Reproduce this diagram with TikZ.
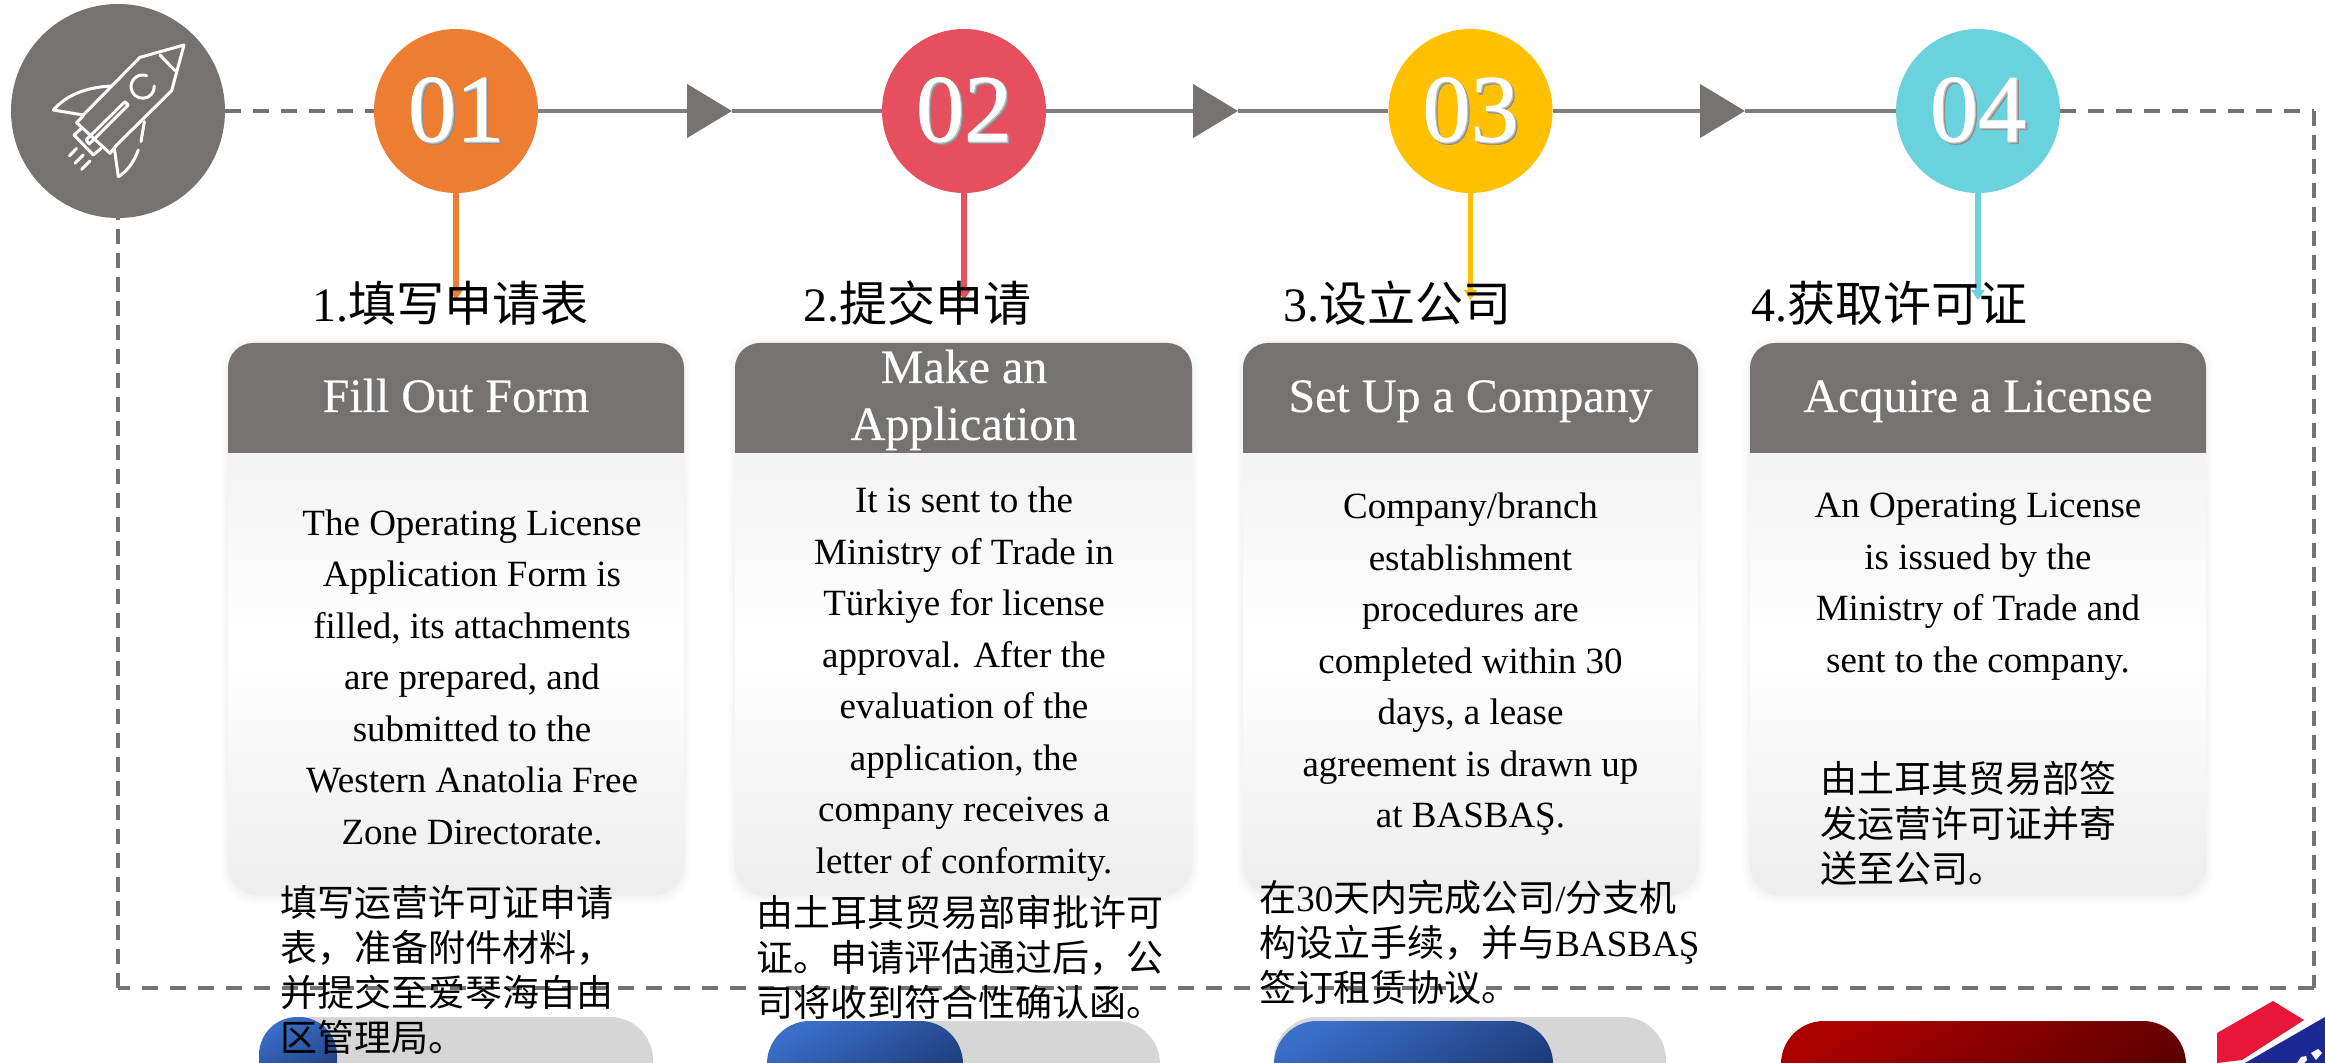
\documentclass[tikz,border=0pt]{standalone}
\usepackage{fontspec}
\usetikzlibrary{arrows.meta,calc}
\setmainfont{Liberation Serif}
\newfontfamily\cjk{Noto Sans CJK SC}
\newfontfamily\numfont[FakeBold=0.8]{Liberation Serif}
\newfontfamily\headfont[FakeBold=0.3]{Liberation Serif}
\definecolor{slate}{HTML}{767271}
\definecolor{lineC}{HTML}{807E7E}
\definecolor{orangeC}{HTML}{ED7D31}
\definecolor{redC}{HTML}{E54F5E}
\definecolor{yellowC}{HTML}{FFC000}
\definecolor{tealC}{HTML}{69D2DC}
\definecolor{trackC}{HTML}{D6D6D6}
\definecolor{blueA}{HTML}{3A6EC8}
\definecolor{blueB}{HTML}{1A3670}
\definecolor{redA}{HTML}{AC0000}
\definecolor{redB}{HTML}{580000}
\definecolor{logoRed}{HTML}{E8173A}
\definecolor{logoBlue}{HTML}{1C2896}
\newcommand{\shadowed}[1]{\rlap{\kern1.2pt\raisebox{-1.2pt}{\textcolor{black!45}{#1}}}\rlap{\kern0.6pt\raisebox{-0.6pt}{\textcolor{black!25}{#1}}}#1}
\tikzset{
  x=0.5pt,y=-0.5pt,
  numcircle/.style={circle,minimum size=82pt,inner sep=0pt,text=white,font=\fontsize{48}{48}\selectfont\numfont},
  flowline/.style={draw=lineC,line width=2.3pt},
  flowtip/.style={flowline,-{Triangle[width=26.5pt,length=22.5pt,color=slate]}},
  dashH/.style={draw=slate,line width=2.4pt,dash pattern=on 8pt off 6pt},
  dashV/.style={draw=slate,line width=2pt,dash pattern=on 7.5pt off 4.5pt},
  stemline/.style={line width=2.75pt,-{Triangle[width=6.5pt,length=5pt]}},
  titletxt/.style={anchor=base west,inner sep=0pt,font=\fontsize{24}{28}\selectfont},
  headtxt/.style={anchor=base,inner sep=0pt,text=white,align=center,font=\fontsize{24}{28.5}\selectfont\headfont},
  bodytxt/.style={anchor=north,inner sep=0pt,align=center,font=\fontsize{18.5}{25.75}\selectfont},
  cjktxt/.style={anchor=north west,inner sep=0pt,align=left,font=\fontsize{18.5}{22.5}\selectfont\cjk},
  rocketline/.style={draw=white,line width=1.5pt,line cap=round,line join=round},
  halo/.style={fill=black,opacity=0.012,rounded corners=16pt},
  pillshape/.style={rounded corners=21.5pt},
  bluefill/.style={pillshape,left color=blueA,right color=blueB,shading angle=30},
  redfill/.style={pillshape,left color=redA,right color=redB,shading angle=30}
}
\newcommand{\card}[2]{%
  \foreach \e in {7,5,3,1}{\fill[halo] ({#1-\e},{343-\e}) rectangle ({#2+\e},{896+\e+1});}
  \shade[rounded corners=16pt,top color=black!6,bottom color=black!7,middle color=white] (#1,400) rectangle (#2,896);
  \begin{scope}
    \clip ({#1-1},340) rectangle ({#2+1},453);
    \fill[slate,rounded corners=12.5pt] (#1,343) rectangle (#2,500);
  \end{scope}}
\begin{document}
\begin{tikzpicture}
\useasboundingbox (0,0) rectangle (2325,1063);
\fill[white] (0,0) rectangle (2325,1063);

% named points
\coordinate (t1) at (732,111);
\coordinate (t2) at (1238,111);
\coordinate (t3) at (1745,111);
\coordinate (tr) at (2314,111);
\coordinate (br) at (2314,988);
\coordinate (bl) at (118,988);
\coordinate (s1) at (456,300);
\coordinate (s2) at (964,300);
\coordinate (s3) at (1470.5,300);
\coordinate (s4) at (1978,300);

% named anchors of the circles
\node[circle,minimum size=107pt,inner sep=0pt] (r) at (118,111) {};
\node[numcircle] (c1) at (456,111) {};
\node[numcircle] (c2) at (964,111) {};
\node[numcircle] (c3) at (1470.5,111) {};
\node[numcircle] (c4) at (1978,111) {};

% cards
\card{228}{684}
\card{735}{1192}
\card{1243}{1698}
\card{1750}{2206}

% progress bars and logo, cut by the page edge
\begin{scope}
\clip (0,0) rectangle (2325,1063);
\fill[trackC,pillshape] (259,1017) rectangle (653,1103);
\fill[trackC,pillshape] (767,1021) rectangle (1160,1107);
\fill[trackC,pillshape] (1274,1017) rectangle (1666,1103);
\shade[bluefill,rounded corners=19pt] (259,1017) rectangle (337,1103);
\shade[bluefill] (767,1021) rectangle (963,1107);
\shade[bluefill] (1274,1021) rectangle (1553,1107);
\shade[redfill] (1781,1021) rectangle (2186,1107);
\fill[logoRed] (2217,1033) -- (2273,1001) -- (2304,1020) -- (2242,1060) -- (2217,1063) -- cycle;
\fill[logoBlue] (2325,1017) -- (2245,1063) -- (2325,1063) -- cycle;
\fill[white] (2297,1063) -- (2301,1057) -- (2306,1056) -- (2307,1060) -- (2304,1063) -- cycle;
\fill[white] (2311,1053) -- (2318,1049) -- (2322,1053) -- (2316,1060) -- cycle;
\end{scope}

% dashed frame
\draw[dashH] (r.east) -- (c1.west);
\draw[dashH] (c4.east) -- (tr);
\draw[dashV] (tr) -- (br);
\draw[dashH] (br) -- (bl);
\draw[dashV] (bl) -- (r.south);

% flow line
\draw[flowtip] (c1.east) -- (t1);
\draw[flowline] (t1) -- (c2.west);
\draw[flowtip] (c2.east) -- (t2);
\draw[flowline] (t2) -- (c3.west);
\draw[flowtip] (c3.east) -- (t3);
\draw[flowline] (t3) -- (c4.west);

% stems
\draw[stemline,draw=orangeC,fill=orangeC] (c1.south) -- (s1);
\draw[stemline,draw=redC,fill=redC] (c2.south) -- (s2);
\draw[stemline,draw=yellowC,fill=yellowC] (c3.south) -- (s3);
\draw[stemline,draw=tealC,fill=tealC] (c4.south) -- (s4);

% circles
\fill[slate] (r.center) circle (107);
\node[numcircle,fill=orangeC] (n1) at (c1) {\raisebox{-0.8pt}{\shadowed{01}}};
\node[numcircle,fill=redC] (n2) at (c2) {\raisebox{-0.8pt}{\shadowed{02}}};
\node[numcircle,fill=yellowC] (n3) at (c3) {\raisebox{-0.8pt}{\shadowed{03}}};
\node[numcircle,fill=tealC] (n4) at (c4) {\raisebox{-0.8pt}{\shadowed{04}}};

% rocket
\begin{scope}[x=0.16667pt,y=-0.16667pt,rocketline]
\draw (345,440) -- (515,272) -- (552,135) -- (420,172) -- (250,345);
\draw (480,165) -- (525,212);
\draw (335,258) .. controls (250,262) and (195,290) .. (160,330) -- (250,345);
\draw (433,365) -- (423,425);
\draw (415,450) .. controls (400,490) and (380,515) .. (355,530) -- (343,445);
\draw (250,348) -- (230,368) -- (330,460) -- (348,438);
\draw (245,385) -- (222,405) -- (280,465) -- (303,445);
\draw (375,305) -- (258,420) -- (268,432) -- (385,315) -- cycle;
\draw (463,258) arc[start angle=-3,end angle=290,radius=35];
\draw (208,468) -- (230,445);
\draw (225,490) -- (250,465);
\draw (245,508) -- (270,483);
\end{scope}

% titles
\node[titletxt] (ti1) at (312,322) {1.{\cjk 填写申请表}};
\node[titletxt] (ti2) at (803,322) {2.{\cjk 提交申请}};
\node[titletxt] (ti3) at (1283,322) {3.{\cjk 设立公司}};
\node[titletxt] (ti4) at (1751,322) {4.{\cjk 获取许可证}};

% card headers
\node[headtxt] (h1) at (456,412) {Fill Out Form};
\node[headtxt] (h2a) at (964,383) {Make an};
\node[headtxt] (h2b) at (964,440) {Application};
\node[headtxt] (h3) at (1470.5,412) {Set Up a Company};
\node[headtxt] (h4) at (1978,412) {Acquire a License};

% card text
\node[bodytxt] (b1) at (472,499) {\strut The Operating License\\Application Form is\\filled, its attachments\\are prepared, and\\submitted to the\\Western Anatolia Free\\Zone Directorate.};
\node[bodytxt] (b2) at (964,476.5) {\strut It is sent to the\\Ministry of Trade in\\Türkiye for license\\approval. After the\\evaluation of the\\application, the\\company receives a\\letter of conformity.};
\node[bodytxt] (b3) at (1470.5,482.5) {\strut Company/branch\\establishment\\procedures are\\completed within 30\\days, a lease\\agreement is drawn up\\at BASBAŞ.};
\node[bodytxt] (b4) at (1978,481.5) {\strut An Operating License\\is issued by the\\Ministry of Trade and\\sent to the company.};

% Chinese text
\node[cjktxt] (z1) at (280,884.5) {\strut 填写运营许可证申请\\表，准备附件材料，\\并提交至爱琴海自由\\区管理局。};
\node[cjktxt] (z2) at (756,894.5) {\strut 由土耳其贸易部审批许可\\证。申请评估通过后，公\\司将收到符合性确认函。};
\node[cjktxt] (z3) at (1259,879.5) {\strut 在{\rmfamily 30}天内完成公司{\rmfamily /}分支机\\构设立手续，并与{\rmfamily BASBAŞ}\\签订租赁协议。};
\node[cjktxt] (z4) at (1820,761) {\strut 由土耳其贸易部签\\发运营许可证并寄\\送至公司。};
\end{tikzpicture}
\end{document}
